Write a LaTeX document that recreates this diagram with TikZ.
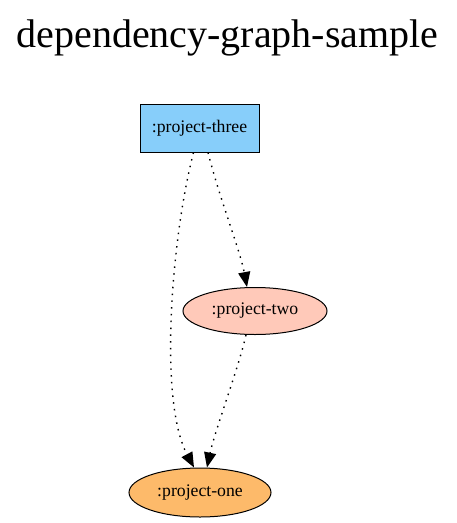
\documentclass[tikz,border=0pt]{standalone}
\usepackage{fontspec}
\setmainfont{Liberation Serif}
\usetikzlibrary{shapes.geometric,arrows.meta}
\definecolor{cthree}{HTML}{87CEFA}
\definecolor{ctwo}{HTML}{FFC9B9}
\definecolor{cone}{HTML}{FDBA6A}
\tikzset{
  boxnode/.style={draw=black, line width=1pt, fill=cthree, rectangle, minimum width=119pt, minimum height=48pt, inner sep=0pt, font=\fontsize{17.7}{20}\selectfont},
  ellnode/.style={draw=black, line width=1pt, ellipse, inner sep=0pt, font=\fontsize{17.7}{20}\selectfont},
  depedge/.style={line width=1.4pt, dash pattern=on 1.5pt off 5.3pt, -{Triangle[length=15pt,width=12pt,sep=0pt]}},
}
\begin{document}
\begin{tikzpicture}[x=1pt,y=-1pt]
\useasboundingbox (0,0) rectangle (456,523);
\node[anchor=base, font=\fontsize{40}{46}\selectfont] (title) at (227.5,47) {dependency-graph-sample};
\node[boxnode] (three) at (199.5,128) {:project-three};
\node[ellnode, fill=ctwo, minimum width=144pt, minimum height=47pt] (two) at (255,311) {:project-two};
\node[ellnode, fill=cone, minimum width=142pt, minimum height=49pt] (one) at (200,492.5) {:project-one};
\draw[depedge] ([xshift=-6pt]three.south) .. controls (172,235) and (158,400) .. ([xshift=-6pt]one.north);
\draw[depedge] ([xshift=8.5pt]three.south) .. controls (220,200) and (240,250) .. ([xshift=-8pt]two.north);
\draw[depedge] ([xshift=-9pt]two.south) .. controls (238,370) and (215,430) .. ([xshift=7pt]one.north);
\end{tikzpicture}
\end{document}
